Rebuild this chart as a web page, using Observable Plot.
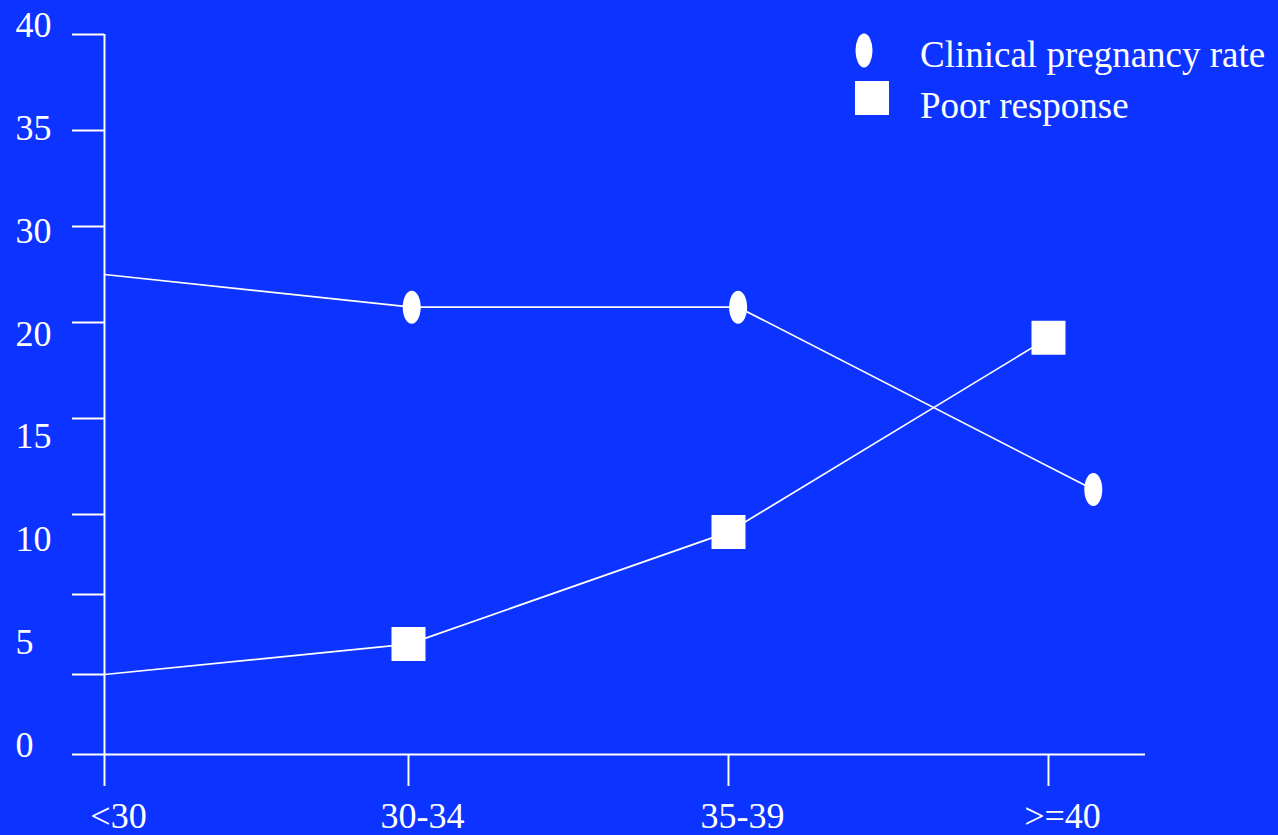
<!DOCTYPE html>
<html>
<head>
<meta charset="utf-8">
<script src="https://cdn.jsdelivr.net/npm/d3@7"></script>
<script src="https://cdn.jsdelivr.net/npm/@observablehq/plot@0.6"></script>
<style>
  html, body { margin: 0; padding: 0; background: #0c33ff; }
  #wrap { position: relative; width: 1278px; height: 835px; overflow: hidden; background: #0c33ff; font-family: "Liberation Serif", "Times New Roman", serif; color: #fff; }
  #chart svg { display: block; }
  .legend { position: absolute; left: 0; top: 0; }
  .legend .item { position: absolute; font-size: 37px; line-height: 1; white-space: nowrap; }
  .legend svg { position: absolute; }
</style>
</head>
<body>
<div id="wrap">
  <div id="chart"></div>
  <div class="legend">
    <svg style="left:855px; top:33px" width="18" height="35"><ellipse cx="9" cy="17.5" rx="8.5" ry="17" fill="#fff"/></svg>
    <div class="item" style="left:920px; top:36px">Clinical pregnancy rate</div>
    <svg style="left:855px; top:81px" width="34" height="34"><rect x="0" y="0" width="34" height="34" fill="#fff"/></svg>
    <div class="item" style="left:920px; top:87px">Poor response</div>
  </div>
</div>
<script>
// Age groups on the horizontal axis
const ageGroups = ["<30", "30-34", "35-39", ">=40"];

// Clinical pregnancy rate (%) per age group
const pregnancyRate = [27.5, 25.8, 25.8, 16.3];
// Poor response (%) per age group
const poorResponse = [5.0, 6.9, 13.9, 24.2];
// The pregnancy-rate series is drawn slightly to the right of each age tick
const rateShift = [0, 0.01, 0.03, 0.14];

// Vertical axis tick values and the labels printed beside the axis
const yTicks = [0, 5, 10, 15, 20, 25, 30, 35, 40];
const yTickLabels = ["0", "5", "10", "15", "20", "30", "35", "40"];

// Scale breakpoints: the axis is stretched above 15
const yBreaks = [0, 15, 40];
const yPixels = [754, 514, 34];
const xBreaks = [0, 1, 3];
const xPixels = [104, 408, 1048];

const rateData = ageGroups.map((g, i) => ({x: i + rateShift[i], y: pregnancyRate[i], marker: i > 0}));
const poorData = ageGroups.map((g, i) => ({x: i, y: poorResponse[i], marker: i > 0}));

// Labels are spread evenly along the axis height
const yPx = d3.scaleLinear(yBreaks, yPixels);
const labelSpread = d3.scaleLinear([0, yTickLabels.length - 1], [yPixels[0], yPixels[yPixels.length - 1]]);
const yLabelValues = yTickLabels.map((_, i) => yPx.invert(labelSpread(i)));

const ellipse = {
  draw(context) {
    const rx = 9, ry = 16.5, k = 0.5523;
    context.moveTo(rx, 0);
    context.bezierCurveTo(rx, k * ry, k * rx, ry, 0, ry);
    context.bezierCurveTo(-k * rx, ry, -rx, k * ry, -rx, 0);
    context.bezierCurveTo(-rx, -k * ry, -k * rx, -ry, 0, -ry);
    context.bezierCurveTo(k * rx, -ry, rx, -k * ry, rx, 0);
    context.closePath();
  }
};
const square = {
  draw(context) {
    const h = 17;
    context.moveTo(-h, -h);
    context.lineTo(h, -h);
    context.lineTo(h, h);
    context.lineTo(-h, h);
    context.closePath();
  }
};

const font = "Liberation Serif, Times New Roman, serif";

const chart = Plot.plot({
  width: 1278,
  height: 835,
  marginLeft: 104,
  marginRight: 133,
  marginTop: 34,
  marginBottom: 81,
  style: {background: "transparent", color: "#fff", fontFamily: font, overflow: "visible"},
  x: {type: "linear", domain: xBreaks, range: xPixels, axis: null, label: null},
  y: {type: "linear", domain: yBreaks, range: yPixels, axis: null, label: null},
  marks: [
    // axis lines
    Plot.ruleX([0], {stroke: "#fff", strokeWidth: 2}),
    Plot.ruleY([0], {stroke: "#fff", strokeWidth: 2}),
    // tick marks
    Plot.axisY(yTicks, {tickSize: 32, tickFormat: () => "", stroke: "#fff", strokeWidth: 2, strokeOpacity: 1}),
    Plot.axisX([0, 1, 2, 3], {tickSize: 32, tickFormat: () => "", stroke: "#fff", strokeWidth: 2, strokeOpacity: 1}),
    // tick labels
    Plot.axisY(yLabelValues, {tickSize: 0, tickPadding: 89, textAnchor: "start", dy: -9, fontSize: 36, fill: "#fff",
      tickFormat: (d, i) => yTickLabels[i]}),
    Plot.axisX([0, 1, 2, 3], {tickSize: 0, tickPadding: 48, dx: 14, fontSize: 36, fill: "#fff",
      tickFormat: (d) => ageGroups[d]}),
    // series
    Plot.line(rateData, {x: "x", y: "y", stroke: "#fff", strokeWidth: 1.7}),
    Plot.line(poorData, {x: "x", y: "y", stroke: "#fff", strokeWidth: 1.7}),
    Plot.dot(rateData.filter(d => d.marker), {x: "x", y: "y", symbol: ellipse, fill: "#fff", stroke: "none"}),
    Plot.dot(poorData.filter(d => d.marker), {x: "x", y: "y", symbol: square, fill: "#fff", stroke: "none"})
  ]
});

document.getElementById("chart").appendChild(chart);
</script>
</body>
</html>
